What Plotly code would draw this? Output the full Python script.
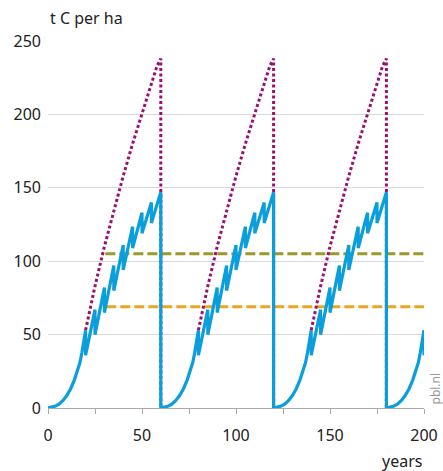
import plotly.graph_objects as go

# ---- data ----
rotation_starts = [0, 60, 120, 180]

# one 60-year rotation of a thinned forest (carbon stock, t C per ha)
thinned_years = [0, 2, 4, 6, 8, 10, 12, 14, 16, 17, 18, 19, 20, 20, 25, 25, 30, 30,
                 35, 35, 40, 40, 45, 45, 50, 50, 55, 55, 60, 60]
thinned_values = [0, 0.4, 1.3, 2.8, 5.2, 8.5, 13, 19, 26, 31, 37.5, 45, 53, 36, 67, 50, 82, 65,
                  97, 80, 111, 94, 123.5, 109, 133, 119, 140, 126, 147, 0]

# unthinned growth from first thinning on
unthinned_years = [20, 25, 30, 35, 40, 45, 50, 55, 58, 60, 60]
unthinned_values = [53, 83, 110, 135, 158, 180, 200, 221, 233, 238, 0]

# average stocks
avg_unthinned_x = [30.5, 200]
avg_unthinned_y = [105, 105]
avg_thinned_x = [31, 200]
avg_thinned_y = [69, 69]

x_tickvals = [0, 25, 50, 75, 100, 125, 150, 175, 200]
x_ticktext = ["0", "", "50", "", "100", "", "150", "", "200"]
y_tickvals = [0, 50, 100, 150, 200, 250]
y_ticktext = ["0", "50", "100", "150", "200", "250"]

BLUE = "#0a9fdc"
PURPLE = "#9c0f6f"
OLIVE = "#9a9a2b"
ORANGE = "#e7a623"
FONT = "Noto Sans"
TXT = "#222222"

# build full series by repeating the rotation
blue_x, blue_y = [], []
for s in rotation_starts:
    for yr, v in zip(thinned_years, thinned_values):
        blue_x.append(s + yr)
        blue_y.append(v)

purple_x, purple_y = [], []
for s in rotation_starts:
    if s + unthinned_years[0] >= 200:
        continue
    for yr, v in zip(unthinned_years, unthinned_values):
        purple_x.append(s + yr)
        purple_y.append(v)
    purple_x.append(None)
    purple_y.append(None)

fig = go.Figure()
fig.add_trace(go.Scatter(x=avg_thinned_x, y=avg_thinned_y, mode="lines",
                         line=dict(color=ORANGE, width=3, dash="10px,4px")))
fig.add_trace(go.Scatter(x=avg_unthinned_x, y=avg_unthinned_y, mode="lines",
                         line=dict(color=OLIVE, width=3, dash="10px,4px")))
fig.add_trace(go.Scatter(x=purple_x, y=purple_y, mode="lines", connectgaps=False,
                         line=dict(color=PURPLE, width=3, dash="3px,2.5px")))
fig.add_trace(go.Scatter(x=blue_x, y=blue_y, mode="lines",
                         line=dict(color=BLUE, width=3.2)))

fig.update_layout(
    width=443, height=471,
    margin=dict(l=48, r=19, t=41, b=63),
    paper_bgcolor="white", plot_bgcolor="white",
    showlegend=False,
    font=dict(family=FONT, size=16, color=TXT),
    xaxis=dict(range=[0, 200], tickvals=x_tickvals, ticktext=x_ticktext,
               showgrid=False, zeroline=False, showline=True, linecolor="#aaaaaa",
               linewidth=1, ticks="outside", ticklen=5, tickcolor="#aaaaaa",
               ticklabelstandoff=8, automargin=False,
               tickfont=dict(size=16, color=TXT)),
    yaxis=dict(range=[0, 250], tickvals=y_tickvals, ticktext=y_ticktext,
               showgrid=True, gridcolor="#d9d9d9", gridwidth=1, zeroline=False,
               showline=False, ticks="", ticklabelstandoff=6, automargin=False,
               tickfont=dict(size=16, color=TXT)),
    annotations=[
        dict(text="t C per ha", xref="paper", yref="paper", x=0, y=1,
             xanchor="left", yanchor="bottom", yshift=10, showarrow=False,
             font=dict(size=16, color=TXT)),
        dict(text="years", xref="paper", yref="paper", x=1, y=0,
             xanchor="right", yanchor="top", yshift=-40, showarrow=False,
             font=dict(size=16, color=TXT)),
        dict(text="pbl.nl", xref="paper", yref="paper", x=1, y=0,
             xanchor="left", yanchor="bottom", xshift=1, yshift=2, textangle=-90,
             borderpad=0, showarrow=False, font=dict(size=12, color="#999999")),
    ],
)
fig.write_html("out.html", config={"displayModeBar": False},
               post_script="document.body.style.margin='0';")
